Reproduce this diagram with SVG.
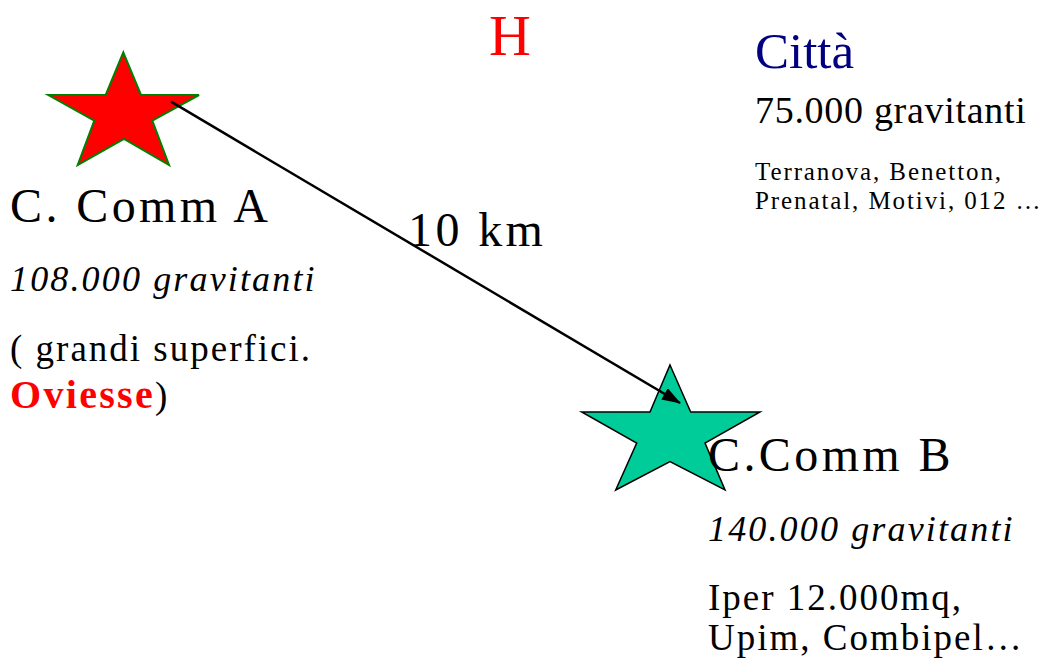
<svg xmlns="http://www.w3.org/2000/svg" width="1047" height="661" viewBox="0 0 1047 661">
<style>
.t{font-family:"Liberation Serif","Times New Roman",serif;fill:#000}
.big{font-size:48px;letter-spacing:3.4px}
.it{font-size:36px;font-style:italic;letter-spacing:2.15px}
.reg{font-size:37px;letter-spacing:2px}
.small{font-size:25px;letter-spacing:1.9px}
</style>
<defs>
<marker id="ah" markerWidth="19" markerHeight="13" refX="18" refY="6.5" orient="auto" markerUnits="userSpaceOnUse" viewBox="0 0 19 13">
<path d="M0,0 L19,6.5 L0,13 z" fill="#000"/>
</marker>
</defs>
<rect width="1047" height="661" fill="#fff"/>
<g id="starA">
<polygon points="123.3,52.3 141,95 199,95 152.3,120.7 169,165 124,139 77.7,165 94.3,120.7 48.3,95 105.7,95" fill="#ff0000" stroke="#008000" stroke-width="2"/>
</g>
<g id="starB">
<polygon points="670,365 690.7,412 760,412 705,443 725,490 670,461.7 615.7,490 636.7,443 581.7,412 650,412" fill="#00cc99" stroke="#000" stroke-width="1.5"/>
</g>
<g id="connectors">
<line x1="171" y1="101.7" x2="680" y2="403" stroke="#000" stroke-width="2.5" marker-end="url(#ah)"/>
</g>
<g id="labelH">
<text class="t" x="489" y="55" font-size="58" style="fill:#ff0000">H</text>
</g>
<g id="citta">
<text class="t" x="755" y="68" font-size="51" style="fill:#000080">Città</text>
<text class="t" x="755" y="123" font-size="38" letter-spacing="0.7">75.000 gravitanti</text>
<text class="t small" x="755" y="180">Terranova, Benetton,</text>
<text class="t small" x="755" y="209">Prenatal, Motivi, 012 …</text>
</g>
<g id="commA">
<text class="t big" x="10" y="222">C. Comm A</text>
<text class="t it" x="10" y="291">108.000 gravitanti</text>
<text class="t reg" x="10" y="361" letter-spacing="1.6">( grandi superfici.</text>
<text class="t reg" x="10" y="408"><tspan style="fill:#ff0000;font-weight:bold;font-size:40px;letter-spacing:2.3px">Oviesse</tspan>)</text>
</g>
<g id="distance">
<text class="t big" x="408" y="246">10 km</text>
</g>
<g id="commB">
<text class="t big" x="708" y="471">C.Comm B</text>
<text class="t it" x="708" y="541">140.000 gravitanti</text>
<text class="t reg" x="708" y="610">Iper 12.000mq,</text>
<text class="t reg" x="708" y="650">Upim, Combipel…</text>
</g>
</svg>
